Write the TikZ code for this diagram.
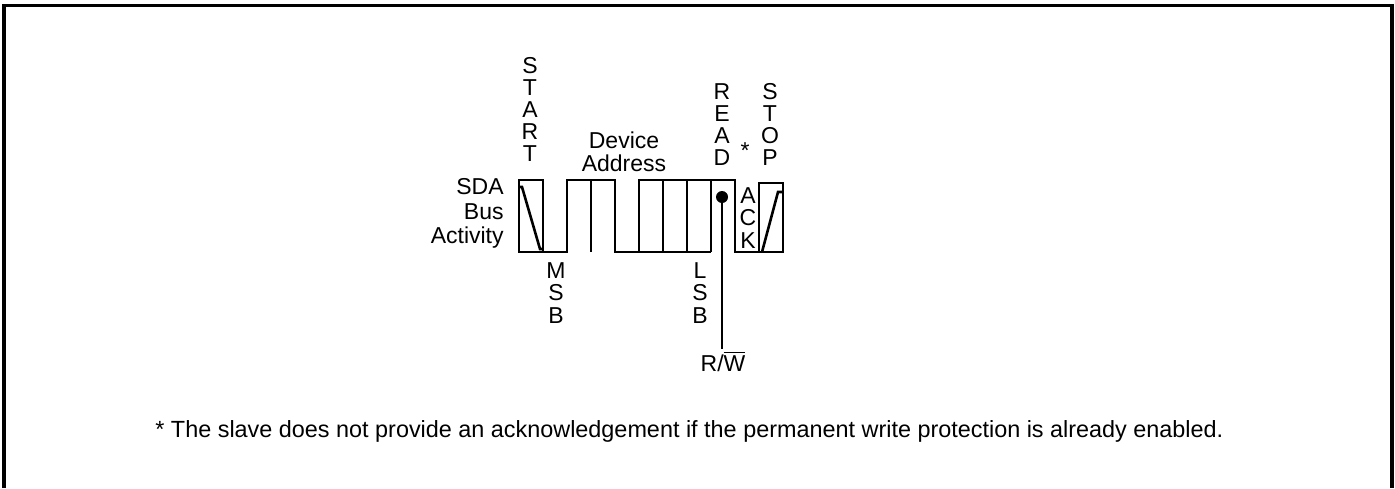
\documentclass[tikz,border=0pt]{standalone}
\usepackage{fontspec}
\setmainfont{Liberation Sans}
\tikzset{
  wave/.style={line width=1.3pt, line join=miter},
  lbl/.style={inner sep=0pt, anchor=base, font=\fontsize{11.5}{12}\selectfont},
}
\begin{document}
\begin{tikzpicture}[x=0.5pt,y=-0.5pt]
    \useasboundingbox (0,0) rectangle (1395,488);
    %frame
    \draw[line width=1.75pt] (4,488) -- (4,5.5) -- (1392,5.5) -- (1392,488);
    %start bit
    \draw[wave] (519,180) rectangle (543,252);
    \draw[wave] (519,187) -- (522,187) -- (540,249) -- (543,249);
    %address bits
    \draw[wave] (543,252) -- (567,252) -- (567,180) -- (615,180) -- (615,252)
        -- (639,252) -- (639,180) -- (735,180) -- (735,252) -- (759,252);
    \draw[wave] (639,252) -- (711,252);
    \foreach \x in {591,663,687,711}
        \draw[wave] (\x,180) -- (\x,252);
    %stop bit
    \draw[wave] (759,183) rectangle (783,252);
    \draw[wave] (762,252) -- (778,192) -- (783,192);
    %vertical labels
    \foreach \l [count=\i] in {S,T,A,R,T}
        \node[lbl] (start\i) at (530,51+22*\i) {\l};
    \foreach \l [count=\i] in {R,E,A,D}
        \node[lbl] (read\i) at (722,77+22*\i) {\l};
    \foreach \l [count=\i] in {S,T,O,P}
        \node[lbl] (stop\i) at (770,77+22*\i) {\l};
    \foreach \l [count=\i] in {A,C,K}
        \node[lbl] (ack\i) at (748,180.5+22.5*\i) {\l};
    \foreach \l [count=\i] in {M,S,B}
        \node[lbl] (msb\i) at (556,255.5+22.5*\i) {\l};
    \foreach \l [count=\i] in {L,S,B}
        \node[lbl] (lsb\i) at (700,255.5+22.5*\i) {\l};
    \node[lbl] (star) at (745,158) {*};
    %side labels
    \node[lbl, anchor=base east] (sda) at (504,194) {SDA};
    \node[lbl, anchor=base east] (bus) at (504,219) {Bus};
    \node[lbl, anchor=base east] (activity) at (504,243) {Activity};
    \node[lbl] (device) at (624,148) {Device};
    \node[lbl] (address) at (624,171) {Address};
    %read/write
    \node[circle, fill, inner sep=0pt, minimum size=6pt] (rwdot) at (722,197) {};
    \node[lbl, inner sep=1pt] (rw) at (723,371) {R/$\overline{\mbox{W}}$};
    \draw[wave] (rwdot.center) -- (rwdot.center |- rw.north);
    %note
    \node[lbl, anchor=base west, font=\fontsize{11.7}{12}\selectfont] (note) at (155,437)
        {* The slave does not provide an acknowledgement if the permanent write protection is already enabled.};
\end{tikzpicture}
\end{document}
